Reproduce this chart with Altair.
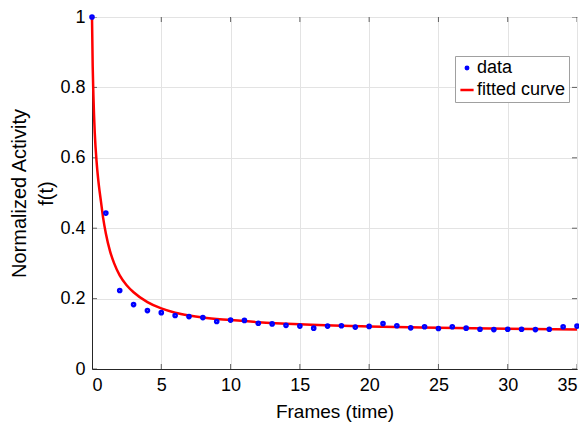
import altair as alt
import pandas as pd

frames = list(range(36))
activity = [1.0, 0.443, 0.223, 0.183, 0.166, 0.160, 0.152, 0.149, 0.146, 0.135,
            0.139, 0.138, 0.130, 0.128, 0.124, 0.122, 0.116, 0.122, 0.123, 0.119,
            0.121, 0.129, 0.123, 0.117, 0.120, 0.115, 0.120, 0.116, 0.113, 0.112,
            0.113, 0.113, 0.112, 0.113, 0.120, 0.122]

curve_t = [0, 0.05, 0.1, 0.2, 0.35, 0.5, 0.65, 0.8, 1.0, 1.3, 1.6, 2.0, 2.5, 3.0,
           4.0, 5.0, 6.0, 7.0, 8.0, 10.0, 12.0, 15.0, 20.0, 25.0, 30.0, 35.0]
curve_f = [1.0, 0.86, 0.78, 0.67, 0.58, 0.52, 0.475, 0.43, 0.385, 0.335, 0.300, 0.266,
           0.238, 0.218, 0.19, 0.172, 0.16, 0.152, 0.146, 0.139, 0.133, 0.127, 0.121,
           0.117, 0.114, 0.112]

x_ticks = [0, 5, 10, 15, 20, 25, 30, 35]
y_ticks = [0, 0.2, 0.4, 0.6, 0.8, 1.0]

series_names = ["data", "fitted curve"]
series_colors = ["#0000ff", "#ff0000"]

pts = pd.DataFrame({"t": frames, "f": activity, "series": "data"})
crv = pd.DataFrame({"t": curve_t, "f": curve_f, "series": "fitted curve"})
xt = pd.DataFrame({"t": x_ticks})
yt = pd.DataFrame({"f": y_ticks})

FONT = "Liberation Sans"
AX = "#262626"

xscale = alt.Scale(domain=[0, 35], nice=False)
yscale = alt.Scale(domain=[0, 1], nice=False)

x = alt.X("t:Q", scale=xscale,
          axis=alt.Axis(title="Frames (time)", values=x_ticks, titlePadding=8,
                        titleFontSize=19))
y = alt.Y("f:Q", scale=yscale,
          axis=alt.Axis(title=["Normalized Activity", "f(t)"], values=y_ticks,
                        format="~g", titlePadding=3, titleFontSize=20, titleLineHeight=27))

legend = alt.Legend(title=None, orient="none", legendX=363, legendY=39,
                    fillColor="white", strokeColor="#a0a0a0", padding=3,
                    labelFontSize=18, labelFont=FONT, labelColor="#000000",
                    symbolStrokeWidth=2.5, rowPadding=4, labelOffset=1)

color = alt.Color("series:N", scale=alt.Scale(domain=series_names, range=series_colors),
                  legend=legend)

points = alt.Chart(pts).mark_point(filled=False, strokeWidth=3.2, opacity=1).encode(
    x=x, y=y, color=color,
    shape=alt.Shape("series:N", scale=alt.Scale(domain=series_names, range=["circle", "stroke"]),
                    legend=legend),
    size=alt.Size("series:N", scale=alt.Scale(domain=series_names, range=[6, 175]), legend=legend),
)

line = alt.Chart(crv).mark_line(strokeWidth=2.5, interpolate="monotone").encode(
    x=x, y=y, color=color,
)

tick_style = dict(color=AX, thickness=1, size=10, clip=True)
xt_bottom = alt.Chart(xt).mark_tick(orient="vertical", **tick_style).encode(
    x=alt.X("t:Q", scale=xscale), y=alt.datum(0))
xt_top = alt.Chart(xt).mark_tick(orient="vertical", **tick_style).encode(
    x=alt.X("t:Q", scale=xscale), y=alt.datum(1))
yt_left = alt.Chart(yt).mark_tick(orient="horizontal", **tick_style).encode(
    y=alt.Y("f:Q", scale=yscale), x=alt.datum(0))
yt_right = alt.Chart(yt).mark_tick(orient="horizontal", **tick_style).encode(
    y=alt.Y("f:Q", scale=yscale), x=alt.datum(35))

chart = alt.layer(xt_bottom, xt_top, yt_left, yt_right, line, points).properties(
    width=485, height=352,
    autosize=alt.AutoSizeParams(type="none"),
    padding={"left": 84, "top": 9, "right": 2, "bottom": 55}
).configure_view(
    stroke=AX, strokeWidth=1
).configure_axis(
    labelFont=FONT, titleFont=FONT, labelFontSize=18,
    titleFontWeight="normal", labelColor="#000000", titleColor="#000000",
    grid=True, gridColor="#e3e3e3", domainColor=AX, tickSize=0,
    labelPadding=7
)

chart.save("out.html", embed_options={"renderer": "svg", "actions": False})
